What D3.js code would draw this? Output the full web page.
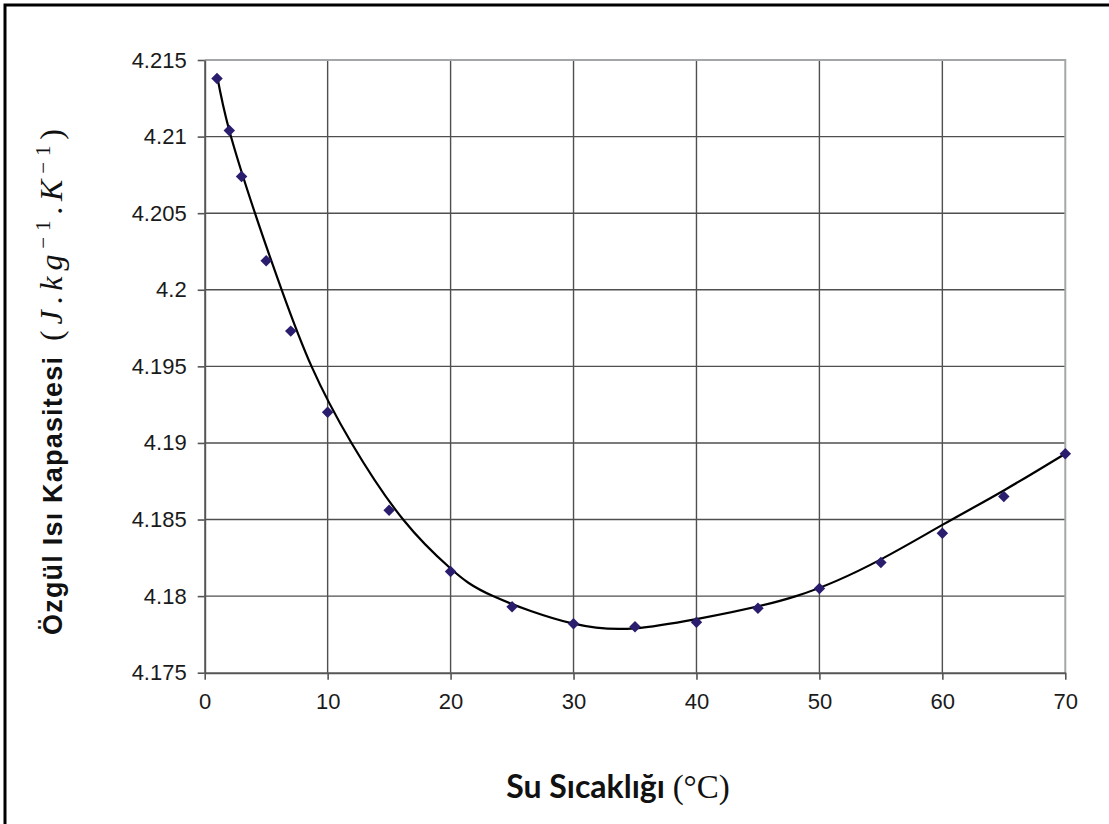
<!DOCTYPE html>
<html>
<head>
<meta charset="utf-8">
<script src="https://cdn.jsdelivr.net/npm/d3@7"></script>
<style>
  html, body { margin: 0; padding: 0; background: #fff; }
  svg { display: block; }
</style>
</head>
<body>
<svg id="chart"></svg>
<script>
// measured data points (temperature, specific heat)
const temps = [1, 2, 3, 5, 7, 10, 15, 20, 25, 30, 35, 40, 45, 50, 55, 60, 65, 70];
const heat = [4.2138, 4.2104, 4.2074, 4.2019, 4.1973, 4.1920, 4.1856, 4.1816, 4.1793, 4.1782,
              4.1780, 4.1783, 4.1792, 4.1805, 4.1822, 4.1841, 4.1865, 4.1893];

// trendline
const fitX = [1, 2, 4.09, 6.26, 8.69, 11.94, 16.14, 20, 23.45, 30, 35, 40, 48.1, 55, 60, 65, 70];
const fitY = [4.2140, 4.2104, 4.2050, 4.2000, 4.1950, 4.1900, 4.1850, 4.1818, 4.1800, 4.1782,
              4.1779, 4.1785, 4.1800, 4.1824, 4.18465, 4.1869, 4.1893];

const xTicks = [0, 10, 20, 30, 40, 50, 60, 70];
const yTicks = [4.175, 4.18, 4.185, 4.19, 4.195, 4.2, 4.205, 4.21, 4.215];
const yLabels = ["4.175", "4.18", "4.185", "4.19", "4.195", "4.2", "4.205", "4.21", "4.215"];

const width = 1109, height = 824;
const plotLeft = 204.7, plotRight = 1065.3, plotTop = 60, plotBottom = 672.7;

const svg = d3.select("#chart").attr("width", width).attr("height", height);

const x = d3.scaleLinear().domain([0, 70]).range([plotLeft, plotRight]);
const y = d3.scaleLinear().domain([4.175, 4.215]).range([plotBottom, plotTop]);

// outer frame (only top and left edges fall inside the picture)
svg.append("path")
   .attr("d", `M5,${height} L5,5 L${width},5`)
   .attr("fill", "none")
   .attr("stroke", "#000")
   .attr("stroke-width", 3);

// gridlines
svg.append("g").selectAll("line")
   .data(xTicks.slice(1, -1)).enter()
   .append("line")
   .attr("x1", d => x(d)).attr("x2", d => x(d))
   .attr("y1", plotTop).attr("y2", plotBottom)
   .attr("stroke", "#4f4f4f").attr("stroke-width", 1.4);
svg.append("g").selectAll("line")
   .data(yTicks.slice(1, -1)).enter()
   .append("line")
   .attr("x1", plotLeft).attr("x2", plotRight)
   .attr("y1", d => y(d)).attr("y2", d => y(d))
   .attr("stroke", "#4f4f4f").attr("stroke-width", 1.4);

// light plot border top / right
svg.append("path")
   .attr("d", `M${plotLeft},${plotTop} L${plotRight},${plotTop} L${plotRight},${plotBottom}`)
   .attr("fill", "none")
   .attr("stroke", "#a3a7a7")
   .attr("stroke-width", 2);

// axes
const yAxis = d3.axisLeft(y).tickValues(yTicks)
   .tickFormat((d, i) => yLabels[i]).tickSizeInner(7).tickSizeOuter(0).tickPadding(11);
const xAxis = d3.axisBottom(x).tickValues(xTicks)
   .tickFormat(d => d).tickSizeInner(7).tickSizeOuter(0).tickPadding(14);

const gy = svg.append("g").attr("transform", `translate(${plotLeft},0)`).call(yAxis);
const gx = svg.append("g").attr("transform", `translate(0,${plotBottom})`).call(xAxis);
[gx, gy].forEach(g => {
	g.select(".domain").attr("stroke", "#555").attr("stroke-width", 2);
	g.selectAll(".tick line").attr("stroke", "#555").attr("stroke-width", 1.6);
	g.selectAll("text")
	 .attr("fill", "#1a1a1a")
	 .style("font-family", "'Liberation Sans', Arial, sans-serif")
	 .style("font-size", "22px");
});

// trendline
svg.append("path")
   .datum(fitX.map((d, i) => [d, fitY[i]]))
   .attr("fill", "none")
   .attr("stroke", "#000")
   .attr("stroke-width", 2.2)
   .attr("d", d3.line()
                .x(d => x(d[0]))
                .y(d => y(d[1]))
                .curve(d3.curveNatural));

// diamonds
svg.append("g").selectAll("path")
   .data(temps).enter()
   .append("path")
   .attr("d", d3.symbol().type(d3.symbolSquare).size(66))
   .attr("fill", "#2a1d6e")
   .attr("transform", (d, i) => `translate(${x(d)},${y(heat[i])}) rotate(45)`);

// y title
svg.append("text")
   .attr("transform", "translate(62,635) rotate(-90)")
   .attr("textLength", 278)
   .attr("lengthAdjust", "spacing")
   .attr("fill", "#111")
   .style("font-family", "'Liberation Sans', Arial, sans-serif")
   .style("font-weight", "bold")
   .style("font-size", "27px")
   .text("Özgül Isı Kapasitesi");

const ym = svg.append("text")
   .attr("transform", "translate(62,341) rotate(-90)")
   .attr("textLength", 212)
   .attr("lengthAdjust", "spacing")
   .attr("fill", "#111")
   .style("font-family", "'Liberation Serif', 'Times New Roman', serif")
   .style("font-size", "32px");
ym.append("tspan").text("(");
ym.append("tspan").style("font-style", "italic").text("J");
ym.append("tspan").text(".");
ym.append("tspan").style("font-style", "italic").text("kg");
ym.append("tspan").attr("dy", -12).style("font-size", "21px").text("−1");
ym.append("tspan").attr("dy", 12).text(".");
ym.append("tspan").style("font-style", "italic").text("K");
ym.append("tspan").attr("dy", -12).style("font-size", "21px").text("−1");
ym.append("tspan").attr("dy", 12).text(")");

// x title
const xt = svg.append("text")
   .attr("x", 618).attr("y", 798)
   .attr("text-anchor", "middle")
   .attr("fill", "#111");
xt.append("tspan")
  .style("font-family", "Lato, 'Open Sans', sans-serif")
  .style("font-weight", "bold")
  .style("font-size", "32px")
  .text("Su Sıcaklığı ");
xt.append("tspan")
  .style("font-family", "'Liberation Serif', serif")
  .style("font-size", "33px")
  .text("(°C)");
</script>
</body>
</html>
